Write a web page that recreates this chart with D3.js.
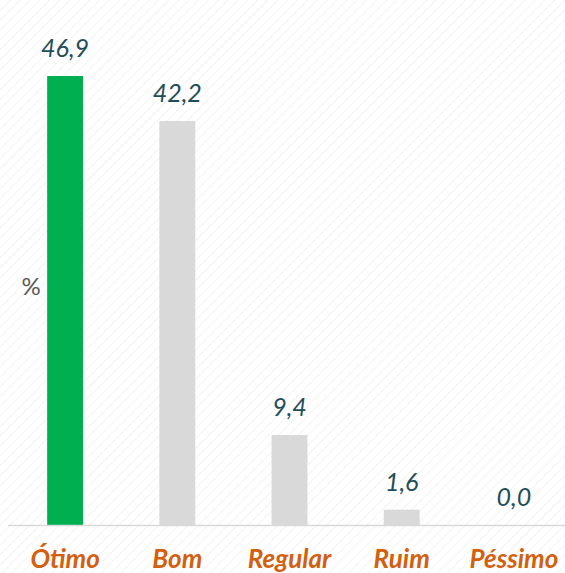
<!DOCTYPE html>
<head>
  <meta charset="utf-8">
  <title>Avaliação</title>
  <script src="https://d3js.org/d3.v7.min.js"></script>
  <style type="text/css">
    body {margin: 0;}
    .valueLabel {font-family: Lato, 'Open Sans', sans-serif; font-style: italic; font-size: 25px;}
    .catLabel {font-family: Lato, 'Open Sans', sans-serif; font-style: italic; font-weight: 700; font-size: 26px;}
  </style>
</head>
<body>
  <div id="viz"></div>
</body>
<script type="text/javascript">

  const categories = ["Ótimo", "Bom", "Regular", "Ruim", "Péssimo"];
  const values = [46.9, 42.2, 9.4, 1.6, 0.0];
  const barColors = ["#00b050", "#d9d9d9", "#d9d9d9", "#d9d9d9", "#d9d9d9"];

  const FULLW = 565;
  const FULLH = 573;
  const BASEY = 525;
  const TOPY = 76;

  const svg = d3.select("#viz")
    .append("svg")
    .attr("width", FULLW)
    .attr("height", FULLH);

  //faint diagonal stripes in the background
  const pattern = svg.append("defs").append("pattern")
    .attr("id", "stripes")
    .attr("width", 7)
    .attr("height", 7)
    .attr("patternUnits", "userSpaceOnUse")
    .attr("patternTransform", "rotate(45)");
  pattern.append("rect").attr("width", 7).attr("height", 7).attr("fill", "#ffffff");
  pattern.append("line")
    .attr("x1", 0).attr("y1", 0).attr("x2", 0).attr("y2", 7)
    .attr("stroke", "#f3f3f3").attr("stroke-width", 2);

  svg.append("rect")
    .attr("width", "100%")
    .attr("height", "100%")
    .attr("fill", "url(#stripes)");

  const x = d3.scaleBand()
    .domain(categories)
    .range([9, 570])
    .paddingInner(0.68)
    .paddingOuter(0.34);

  const y = d3.scaleLinear()
    .domain([0, 46.9])
    .range([BASEY, TOPY]);

  svg.selectAll(".bar")
    .data(values)
    .join("rect")
    .attr("class", "bar")
    .attr("x", (d, i) => x(categories[i]))
    .attr("y", d => y(d))
    .attr("width", x.bandwidth())
    .attr("height", d => BASEY - y(d))
    .attr("fill", (d, i) => barColors[i]);

  //baseline
  svg.append("line")
    .attr("x1", 8).attr("x2", FULLW)
    .attr("y1", BASEY + 0.5).attr("y2", BASEY + 0.5)
    .attr("stroke", "#d9d9d9")
    .attr("stroke-width", 1.5);

  svg.selectAll(".valueLabel")
    .data(values)
    .join("text")
    .attr("class", "valueLabel")
    .attr("x", (d, i) => x(categories[i]) + x.bandwidth() / 2)
    .attr("y", d => y(d) - 19)
    .attr("text-anchor", "middle")
    .attr("fill", "#1f4e5a")
    .text(d => d.toFixed(1).replace(".", ","));

  svg.selectAll(".catLabel")
    .data(categories)
    .join("text")
    .attr("class", "catLabel")
    .attr("x", d => x(d) + x.bandwidth() / 2)
    .attr("y", 568)
    .attr("text-anchor", "middle")
    .attr("fill", "#d2600f")
    .text(d => d);

  svg.append("text")
    .attr("x", 31)
    .attr("y", 295)
    .attr("text-anchor", "middle")
    .attr("font-family", "Lato, 'Open Sans', sans-serif")
    .attr("font-size", 24)
    .attr("fill", "#595959")
    .text("%");

</script>
</html>
